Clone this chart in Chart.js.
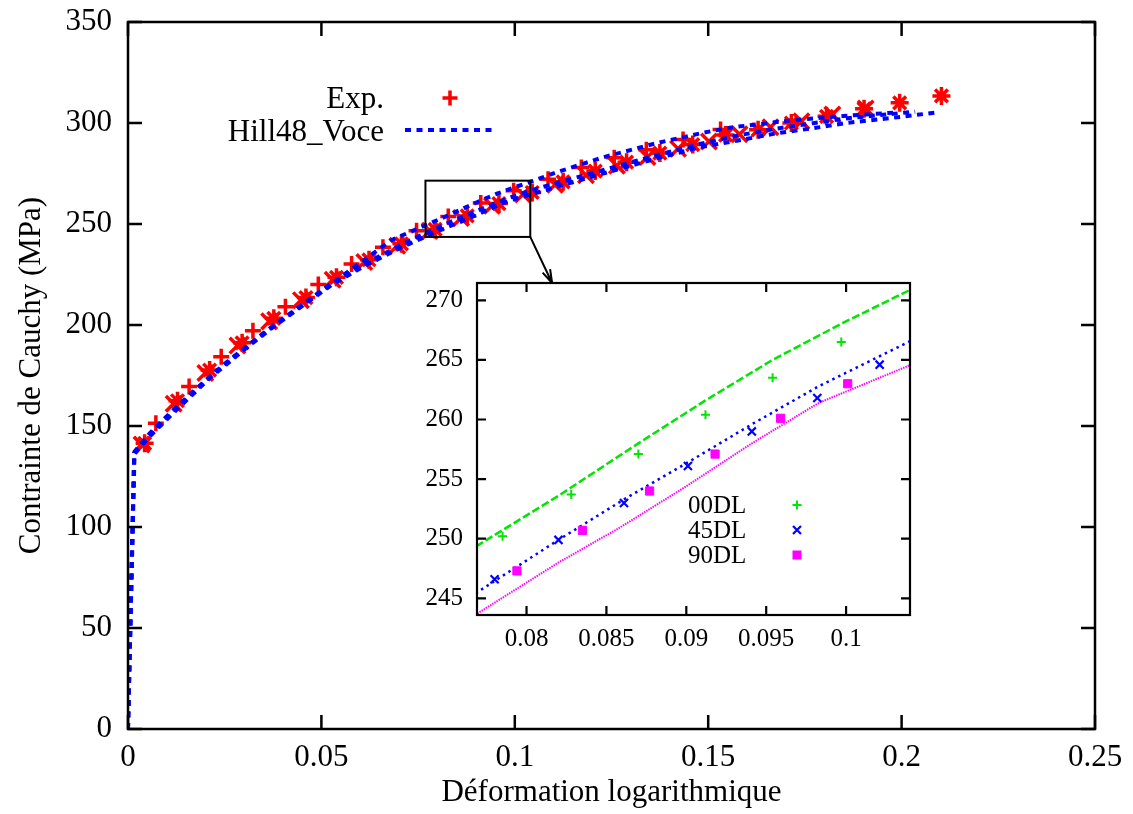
<!DOCTYPE html>
<html><head><meta charset="utf-8">
<script src="https://cdn.jsdelivr.net/npm/chart.js@4.4.0/dist/chart.umd.min.js"></script>
<style>
html,body{margin:0;padding:0;background:#fff;}
#wrap{position:relative;width:1133px;height:814px;background:#fff;}
#main{position:absolute;left:0;top:0;z-index:1;}
#inset{position:absolute;left:400px;top:260px;z-index:2;}
</style></head><body>
<div id="wrap"><canvas id="main" width="1133" height="814"></canvas><canvas id="inset" width="530" height="400"></canvas></div>
<script>
// ---------- data ----------
const mainXTicks = [0, 0.05, 0.1, 0.15, 0.2, 0.25];
const mainYTicks = [0, 50, 100, 150, 200, 250, 300, 350];
const insetXTicks = [0.08, 0.085, 0.09, 0.095, 0.1];
const insetYTicks = [245, 250, 255, 260, 265, 270];

// Experimental points shown in main plot
const exp00X = [0.0072,0.0158,0.0241,0.0323,0.0407,0.0492,0.0578,0.0659,0.0746,0.0828,0.0912,0.0997,0.1086,0.1172,0.1257,0.1340,0.1435,0.1532];
const exp00Y = [151.3,169.5,184.3,197.2,209.0,220.0,230.2,238.5,246.7,253.7,260.4,266.5,272.2,278.0,282.8,286.8,291.8,296.8];
const exp45X = [0.0035,0.0118,0.0200,0.0283,0.0365,0.0447,0.0529,0.0611,0.0696,0.0780,0.0861,0.0941,0.1021,0.1104,0.1184,0.1264,0.1343,0.1422,0.1502,0.1581,0.1661,0.1741,0.1821,0.1907];
const exp45Y = [140.8,161.0,176.2,189.8,201.8,212.3,222.4,231.2,239.2,246.6,253.0,259.0,264.6,269.4,274.2,278.8,283.2,287.3,290.8,294.4,297.9,300.9,304.2,307.2];
const exp90X = [0.0043,0.0128,0.0211,0.0295,0.0377,0.0460,0.0539,0.0623,0.0707,0.0794,0.0877,0.0959,0.1045,0.1125,0.1208,0.1289,0.1375,0.1460,0.1545,0.1629,0.1715,0.1806,0.1903,0.1995,0.2103];
const exp90Y = [141.4,162.5,177.7,191.2,203.3,213.6,223.6,232.3,240.2,247.3,254.0,260.1,265.6,270.9,276.2,280.6,285.1,289.3,294.0,296.6,300.0,303.3,307.0,310.0,313.4];

// Experimental points shown in the inset
const in00X = [0.0785,0.0828,0.0870,0.0912,0.0954,0.0997];
const in00Y = [250.2,253.7,257.1,260.4,263.5,266.5];
const in45X = [0.0780,0.0820,0.0861,0.0901,0.0941,0.0982,0.1021];
const in45Y = [246.6,249.9,253.0,256.1,259.0,261.8,264.6];
const in90X = [0.0794,0.0835,0.0877,0.0918,0.0959,0.1001];
const in90Y = [247.3,250.7,254.0,257.1,260.1,263.0];

// Hill48_Voce model curves
const hill00X = [0,0.0017,0.0056,0.0099,0.0164,0.0254,0.0349,0.0427,0.0573,0.0681,0.0769,0.0820,0.0870,0.0912,0.0954,0.0998,0.1039,0.1108,0.1228,0.1366,0.1487,0.1564,0.1700,0.1850,0.1978];
const hill00Y = [0,137.3,146.4,154.6,166.4,181.4,195.6,206.6,227.0,242.0,249.4,253.6,258.0,261.6,265.0,268.1,270.8,275.6,283.0,290.0,295.2,297.9,301.0,303.5,305.1];
const hill45X = [0,0.0016,0.0056,0.0125,0.0211,0.0302,0.0375,0.0526,0.0608,0.0711,0.0769,0.0820,0.0861,0.0901,0.0941,0.0983,0.1039,0.1125,0.1245,0.1366,0.1478,0.1581,0.1676,0.1771,0.1861,0.2035];
const hill45Y = [0,136.6,145.6,158.8,174.4,188.7,199.6,220.6,229.8,240.2,245.5,249.9,253.3,256.4,259.6,262.8,266.5,271.2,277.6,284.0,289.6,294.0,297.2,299.9,302.4,305.6];
const hill90X = [0,0.0016,0.0056,0.0125,0.0211,0.0302,0.0375,0.0526,0.0608,0.0711,0.0769,0.0820,0.0858,0.0900,0.0941,0.0983,0.1039,0.1125,0.1245,0.1366,0.1478,0.1590,0.1676,0.1771,0.1861,0.1978,0.2094];
const hill90Y = [0,136.0,144.8,157.9,173.6,188.0,198.9,219.8,228.9,238.8,243.7,248.0,250.9,254.4,258.0,261.4,264.5,269.3,275.9,282.4,288.0,291.8,294.9,297.4,300.1,302.6,305.3];

const seriesLabels = ['00DL','45DL','90DL'];
const legendMain = ['Exp.','Hill48_Voce'];

// ---------- helpers ----------
const pts = (xs, ys) => xs.map((x, i) => ({x, y: ys[i]}));
const FONT = 'Liberation Serif';
const RED = '#ff0000', BLUE = '#0000ff', GREEN = '#00e600', MAG = '#ff00ff';
const INSET_X = [0.0769, 0.1040], INSET_Y = [243.6, 271.45];
const INSET_LEFT = 400, INSET_TOP = 260;

function marker(ctx, style, x, y, r, color, lw){
  ctx.save(); ctx.strokeStyle = color; ctx.fillStyle = color; ctx.lineWidth = lw; ctx.beginPath();
  if (style === 'rect'){ ctx.fillRect(x-r, y-r, 2*r, 2*r); ctx.restore(); return; }
  if (style === 'cross' || style === 'star'){ ctx.moveTo(x-r,y); ctx.lineTo(x+r,y); ctx.moveTo(x,y-r); ctx.lineTo(x,y+r); }
  if (style === 'crossRot' || style === 'star'){ ctx.moveTo(x-r,y-r); ctx.lineTo(x+r,y+r); ctx.moveTo(x-r,y+r); ctx.lineTo(x+r,y-r); }
  ctx.stroke(); ctx.restore();
}

function frameTicks(len, lw){
  return {id:'frameTicks', afterDatasetsDraw(chart){
    const {ctx, chartArea:a, scales:{x, y}} = chart;
    ctx.save(); ctx.strokeStyle = '#000'; ctx.lineWidth = lw; ctx.beginPath();
    x.ticks.forEach(t => { const p = x.getPixelForValue(t.value);
      ctx.moveTo(p, a.bottom); ctx.lineTo(p, a.bottom - len);
      ctx.moveTo(p, a.top); ctx.lineTo(p, a.top + len); });
    y.ticks.forEach(t => { const p = y.getPixelForValue(t.value);
      ctx.moveTo(a.left, p); ctx.lineTo(a.left + len, p);
      ctx.moveTo(a.right, p); ctx.lineTo(a.right - len, p); });
    ctx.stroke();
    ctx.strokeRect(a.left, a.top, a.right - a.left, a.bottom - a.top);
    ctx.restore();
  }};
}

function fixedTicks(arr){ return function(scale){ scale.ticks = arr.map(v => ({value: v})); }; }
function fitTo(prop, val){ return function(s){ s[prop] = val; s.paddingTop = 0; s.paddingBottom = 0; s.paddingLeft = 0; s.paddingRight = 0; }; }
const fmt = v => String(+v.toFixed(4));

// ---------- inset chart ----------
const insetLegend = {id:'insetLegend', afterDraw(chart){
  const ctx = chart.ctx; const ox = INSET_LEFT, oy = INSET_TOP;
  ctx.save(); ctx.font = '25px "' + FONT + '"'; ctx.fillStyle = '#000';
  ctx.textAlign = 'left'; ctx.textBaseline = 'alphabetic';
  const ys = [505, 530, 555];
  ctx.fillText(seriesLabels[0], 688 - ox, 513 - oy);
  ctx.fillText(seriesLabels[1], 688 - ox, 538 - oy);
  ctx.fillText(seriesLabels[2], 688 - ox, 563 - oy);
  marker(ctx, 'cross', 797 - ox, ys[0] - oy, 4.5, GREEN, 2);
  marker(ctx, 'crossRot', 797 - ox, ys[1] - oy, 4, BLUE, 2.2);
  marker(ctx, 'rect', 797 - ox, ys[2] - oy, 4.5, MAG, 1);
  ctx.restore();
}};

const insetChart = new Chart(document.getElementById('inset'), {
  type: 'scatter',
  data: { datasets: [
    {data: pts(in00X, in00Y), pointStyle:'cross', pointRadius:4.5, pointBorderWidth:2, borderColor:GREEN, backgroundColor:GREEN},
    {data: pts(in45X, in45Y), pointStyle:'crossRot', pointRadius:5.7, pointBorderWidth:2.2, borderColor:BLUE, backgroundColor:BLUE},
    {data: pts(in90X, in90Y), pointStyle:'rect', pointRadius:5.8, pointBorderWidth:1, borderColor:MAG, backgroundColor:MAG},
    {data: pts(hill00X, hill00Y), showLine:true, pointRadius:0, borderColor:GREEN, borderWidth:2.5, borderDash:[8,3]},
    {data: pts(hill45X, hill45Y), showLine:true, pointRadius:0, borderColor:BLUE, borderWidth:2.5, borderDash:[2.5,4]},
    {data: pts(hill90X, hill90Y), showLine:true, pointRadius:0, borderColor:MAG, borderWidth:2, borderDash:[1.5,1]}
  ]},
  options: {
    responsive:false, animation:false, events:[],
    layout:{padding:{top:23, right:20, left:0, bottom:0}},
    plugins:{legend:{display:false}, tooltip:{enabled:false}},
    scales:{
      x:{type:'linear', min:INSET_X[0], max:INSET_X[1], afterBuildTicks:fixedTicks(insetXTicks),
         afterFit:fitTo('height', 45),
         grid:{display:false, drawTicks:false}, border:{display:false},
         ticks:{callback:fmt, color:'#000', font:{family:FONT, size:25}, padding:9, maxRotation:0, autoSkip:false}},
      y:{type:'linear', min:INSET_Y[0], max:INSET_Y[1], afterBuildTicks:fixedTicks(insetYTicks),
         afterFit:fitTo('width', 77),
         grid:{display:false, drawTicks:false}, border:{display:false},
         ticks:{callback:fmt, color:'#000', font:{family:FONT, size:25}, padding:14, autoSkip:false}}
    }
  },
  plugins:[frameTicks(9, 2.2), insetLegend]
});

// ---------- main chart ----------
const mainDecor = {id:'mainDecor', afterDraw(chart){
  const {ctx, scales:{x, y}} = chart;
  ctx.save();
  // zoom rectangle
  const x0 = x.getPixelForValue(INSET_X[0]), x1 = x.getPixelForValue(INSET_X[1]);
  const y0 = y.getPixelForValue(INSET_Y[1]), y1 = y.getPixelForValue(INSET_Y[0]);
  ctx.strokeStyle = '#000'; ctx.lineWidth = 2;
  ctx.strokeRect(x0, y0, x1 - x0, y1 - y0);
  // arrow to inset
  const ex = INSET_LEFT + insetChart.scales.x.getPixelForValue(0.0816);
  const ey = INSET_TOP + insetChart.chartArea.top;
  ctx.beginPath(); ctx.moveTo(x1, y1); ctx.lineTo(ex, ey);
  const ang = Math.atan2(ey - y1, ex - x1), hl = 14, ha = 0.3;
  ctx.moveTo(ex, ey); ctx.lineTo(ex - hl*Math.cos(ang - ha), ey - hl*Math.sin(ang - ha));
  ctx.moveTo(ex, ey); ctx.lineTo(ex - hl*Math.cos(ang + ha), ey - hl*Math.sin(ang + ha));
  ctx.stroke();
  // key
  ctx.font = '31px "' + FONT + '"'; ctx.fillStyle = '#000';
  ctx.textAlign = 'right'; ctx.textBaseline = 'alphabetic';
  ctx.fillText(legendMain[0], 384, 108);
  ctx.fillText(legendMain[1], 384, 141);
  marker(ctx, 'cross', 450, 98, 7.5, RED, 3.5);
  ctx.strokeStyle = BLUE; ctx.lineWidth = 4; ctx.setLineDash([6,5.5]);
  ctx.beginPath(); ctx.moveTo(405, 130); ctx.lineTo(492, 130); ctx.stroke();
  ctx.restore();
}};

const lineDs = (xs, ys) => ({data: pts(xs, ys), showLine:true, pointRadius:0, borderColor:BLUE, borderWidth:4, borderDash:[6,5.5]});
const mainChart = new Chart(document.getElementById('main'), {
  type: 'scatter',
  data: { datasets: [
    lineDs(hill00X, hill00Y), lineDs(hill45X, hill45Y), lineDs(hill90X, hill90Y),
    {data: pts(exp00X, exp00Y), pointStyle:'cross', pointRadius:8, pointBorderWidth:3.5, borderColor:RED, backgroundColor:RED},
    {data: pts(exp45X, exp45Y), pointStyle:'crossRot', pointRadius:11, pointBorderWidth:3.5, borderColor:RED, backgroundColor:RED},
    {data: pts(exp90X, exp90Y), pointStyle:'star', pointRadius:9, pointBorderWidth:3.5, borderColor:RED, backgroundColor:RED}
  ]},
  options: {
    responsive:false, animation:false, events:[],
    layout:{padding:{top:22, right:38, left:0, bottom:0}},
    plugins:{legend:{display:false}, tooltip:{enabled:false}},
    scales:{
      x:{type:'linear', min:0, max:0.25, afterBuildTicks:fixedTicks(mainXTicks),
         afterFit:fitTo('height', 85),
         grid:{display:false, drawTicks:false}, border:{display:false},
         title:{display:true, text:'Déformation logarithmique', color:'#000', font:{family:FONT, size:31}, padding:{top:0, bottom:3}},
         ticks:{callback:fmt, color:'#000', font:{family:FONT, size:31}, padding:10, maxRotation:0, autoSkip:false}},
      y:{type:'linear', min:0, max:350, afterBuildTicks:fixedTicks(mainYTicks),
         afterFit:fitTo('width', 128),
         grid:{display:false, drawTicks:false}, border:{display:false},
         title:{display:true, text:'Contrainte de Cauchy (MPa)', color:'#000', font:{family:FONT, size:31}, padding:{top:13, bottom:0}},
         ticks:{callback:fmt, color:'#000', font:{family:FONT, size:31}, padding:16, autoSkip:false}}
    }
  },
  plugins:[frameTicks(14, 2.5), mainDecor]
});
</script>
</body></html>
